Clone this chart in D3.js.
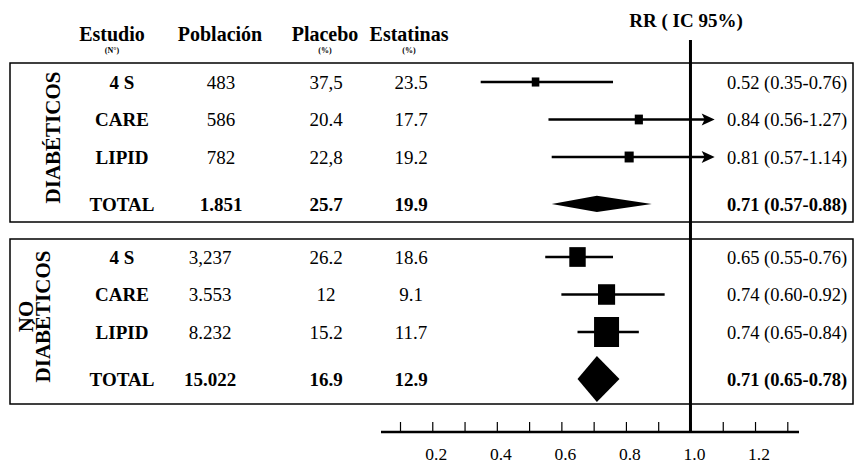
<!DOCTYPE html>
<html><head><meta charset="utf-8">
<script src="https://cdn.jsdelivr.net/npm/d3@7"></script>
<style>body{margin:0;background:#fff}svg text{font-family:"Liberation Serif","Times New Roman",serif;fill:#000}</style>
</head><body><svg id="c" width="855" height="465"></svg>
<script>
// ---- data ----
const groupNames = [["DIABÉTICOS"], ["NO", "DIABÉTICOS"]];
const studies = ["4 S", "CARE", "LIPID", "TOTAL"];
const popDiab = ["483", "586", "782", "1.851"];
const popNoDiab = ["3,237", "3.553", "8.232", "15.022"];
const placeboDiab = ["37,5", "20.4", "22,8", "25.7"];
const placeboNoDiab = ["26.2", "12", "15.2", "16.9"];
const statinDiab = ["23.5", "17.7", "19.2", "19.9"];
const statinNoDiab = ["18.6", "9.1", "11.7", "12.9"];
const rrDiab = [0.52, 0.84, 0.81, 0.71];
const loDiab = [0.35, 0.56, 0.57, 0.57];
const hiDiab = [0.76, 1.27, 1.14, 0.88];
const rrNoDiab = [0.65, 0.74, 0.74, 0.71];
const loNoDiab = [0.55, 0.60, 0.65, 0.65];
const hiNoDiab = [0.76, 0.92, 0.84, 0.78];
const axisTicks = [0.1, 0.2, 0.3, 0.4, 0.5, 0.6, 0.7, 0.8, 0.9, 1.0, 1.1, 1.2, 1.3];
const axisLabels = [0.2, 0.4, 0.6, 0.8, 1.0, 1.2];
const headers = ["Estudio", "Población", "Placebo", "Estatinas"];
const subHeaders = ["(N°)", "", "(%)", "(%)"];
const rrHeader = "RR ( IC 95%)";

// ---- layout ----
const svg = d3.select("#c");
const FONT = 19;
const x = d3.scaleLinear().domain([0.1, 1.3]).range([400, 787.3]);
const rowIdx = [0, 1, 2, 3.25];
const groups = [
  {names: groupNames[0], pop: popDiab, pla: placeboDiab, sta: statinDiab, rr: rrDiab, lo: loDiab, hi: hiDiab,
   y0: 82, top: 63, bottom: 222, popX: 221, nameX: [60]},
  {names: groupNames[1], pop: popNoDiab, pla: placeboNoDiab, sta: statinNoDiab, rr: rrNoDiab, lo: loNoDiab, hi: hiNoDiab,
   y0: 257, top: 239, bottom: 404, popX: 210, nameX: [33, 50]}
];
const num = s => +s.replace(/[.,]/g, "");
const allPop = popDiab.slice(0, 3).concat(popNoDiab.slice(0, 3)).map(num);
const sq = d3.scaleSqrt().domain([0, d3.max(allPop)]).range([2, 25]);
const totPop = [popDiab[3], popNoDiab[3]].map(num);
const dh = d3.scaleSqrt().domain([0, d3.max(totPop)]).range([0, 46]);
const rowY = d3.scaleLinear().domain([0, 1]).range([0, 37.5]);
const colX = {study: 122, pla: 326, sta: 411, rr: 727};
const CAP = 1.075;

// headers
const hx = [112, 220, 325, 409];
headers.forEach((h, i) => {
  svg.append("text").attr("x", hx[i]).attr("y", 41).attr("text-anchor", "middle")
    .attr("font-size", 20).attr("font-weight", "bold").text(h);
  if (subHeaders[i]) svg.append("text").attr("x", hx[i]).attr("y", 53).attr("text-anchor", "middle")
    .attr("font-size", 8).attr("font-weight", "bold").text(subHeaders[i]);
});
svg.append("text").attr("x", 686).attr("y", 27).attr("text-anchor", "middle")
  .attr("font-size", FONT).attr("font-weight", "bold").text(rrHeader);

// boxes
groups.forEach(g => {
  svg.append("rect").attr("x", 10).attr("y", g.top).attr("width", 843).attr("height", g.bottom - g.top)
    .attr("fill", "none").attr("stroke", "#000").attr("stroke-width", 1.5);
});

// reference line at RR = 1
svg.append("line").attr("x1", x(1)).attr("x2", x(1)).attr("y1", 40).attr("y2", 432)
  .attr("stroke", "#000").attr("stroke-width", 3);

groups.forEach((g, gi) => {
  const cy = (g.top + g.bottom) / 2 - 5;
  g.names.forEach((n, k) => {
    svg.append("text").attr("transform", `translate(${g.nameX[k]},${cy}) rotate(-90)`)
      .attr("text-anchor", "middle").attr("font-size", 21).attr("font-weight", "bold").text(n);
  });
  studies.forEach((s, i) => {
    const y = g.y0 + rowY(rowIdx[i]);
    const bold = i === 3;
    const base = y + 0.35 * FONT;
    const t = (xx, txt, anchor, w) => svg.append("text").attr("x", xx).attr("y", base)
      .attr("text-anchor", anchor).attr("font-size", FONT).attr("font-weight", w).text(txt);
    t(colX.study, s, "middle", "bold");
    t(g.popX, g.pop[i], "middle", bold ? "bold" : "normal");
    t(colX.pla, g.pla[i], "middle", bold ? "bold" : "normal");
    t(colX.sta, g.sta[i], "middle", bold ? "bold" : "normal");
    t(colX.rr, `${g.rr[i].toFixed(2)} (${g.lo[i].toFixed(2)}-${g.hi[i].toFixed(2)})`, "start", bold ? "bold" : "normal")
      .attr("font-size", 18.5);

    if (!bold) {
      const capped = g.hi[i] > CAP;
      const xe = x(Math.min(g.hi[i], CAP));
      svg.append("line").attr("x1", x(g.lo[i])).attr("x2", capped ? xe - 6 : xe).attr("y1", y).attr("y2", y)
        .attr("stroke", "#000").attr("stroke-width", 2.6);
      if (capped) {
        svg.append("path").attr("d", `M${xe},${y} L${xe - 13},${y - 6} L${xe - 10},${y} L${xe - 13},${y + 6} Z`).attr("fill", "#000");
      }
      const w = sq(num(g.pop[i]));
      const h = w * 1.2;
      svg.append("rect").attr("x", x(g.rr[i]) - w / 2).attr("y", y - h / 2).attr("width", w).attr("height", h)
        .attr("fill", "#000");
    } else {
      const hh = dh(num(g.pop[i])) / 2;
      svg.append("path").attr("d",
        `M${x(g.lo[i])},${y} L${x(g.rr[i])},${y - hh} L${x(g.hi[i])},${y} L${x(g.rr[i])},${y + hh} Z`)
        .attr("fill", "#000");
    }
  });
});

// axis
const axG = svg.append("g").attr("transform", "translate(0,432)");
axG.call(d3.axisTop(x).tickValues(axisTicks).tickSize(10).tickFormat(""));
axG.select(".domain").remove();
axG.selectAll(".tick line").attr("stroke", "#000").attr("stroke-width", 1.2);
svg.append("line").attr("x1", 381).attr("x2", 799).attr("y1", 432).attr("y2", 432)
  .attr("stroke", "#000").attr("stroke-width", 2.5);
svg.selectAll(".axlab").data(axisLabels).enter().append("text").attr("class", "axlab")
  .attr("x", d => x(d) + 4).attr("y", 460).attr("text-anchor", "middle").attr("font-size", 17.5)
  .text(d => d3.format(".1f")(d));
</script></body></html>
